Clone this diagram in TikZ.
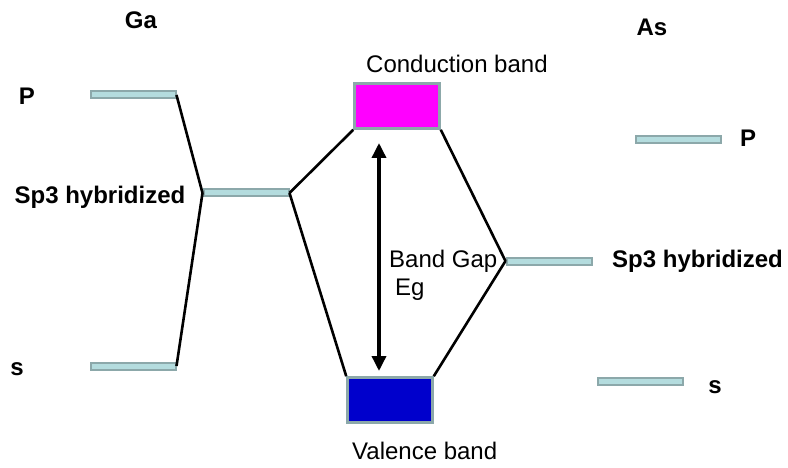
\documentclass[tikz,border=0pt]{standalone}
\usepackage{fontspec}
\setmainfont{Liberation Sans}
\usetikzlibrary{arrows.meta}

\definecolor{barfill}{RGB}{180,220,222}
\definecolor{barline}{RGB}{140,168,170}
\definecolor{cbfill}{RGB}{255,0,255}
\definecolor{vbfill}{RGB}{0,0,204}

\begin{document}
\begin{tikzpicture}[x=1pt, y=-1pt,
    level/.style={draw=barline, fill=barfill, line width=2pt, minimum width=85pt, minimum height=7pt, inner sep=0pt},
    band/.style={draw=barline, line width=2.5pt, minimum width=85pt, minimum height=45pt, inner sep=0pt},
    conn/.style={line width=2.6pt},
    lbl/.style={font=\fontsize{24}{28}\selectfont, inner sep=0pt},
    bold/.style={lbl, font=\fontsize{24}{28}\selectfont\bfseries}]
    \useasboundingbox (0,0) rectangle (788,468);

    % Ga levels
    \node[level] (gaP) at (133,95) {};
    \node[level] (gaSp) at (246,193) {};
    \node[level] (gaS) at (133,366) {};
    \node[bold] (gaName) at (141,20) {Ga};
    \node[bold] (gaPlbl) at (27,96) {P};
    \node[bold] (gaSplbl) at (100,197) {Sp3 hybridized};
    \node[bold] (gaSlbl) at (17,369) {s};

    % As levels
    \node[level] (asP) at (678,140) {};
    \node[level] (asSp) at (549,261) {};
    \node[level] (asS) at (640,381) {};
    \node[bold] (asName) at (652,27) {As};
    \node[bold] (asPlbl) at (748,138) {P};
    \node[bold, anchor=base west] (asSplbl) at (612,268) {Sp3 hybridized};
    \node[bold] (asSlbl) at (715,387) {s};

    % Bands
    \node[band, fill=cbfill] (cb) at (397,106) {};
    \node[band, fill=vbfill] (vb) at (390,400) {};
    \node[lbl, anchor=base west] (cblbl) at (366,73) {Conduction band};
    \node[lbl, anchor=base west] (vblbl) at (352,459) {Valence band};

    % Band gap
    \coordinate (gapTop) at (379,143);
    \coordinate (gapBot) at (379,371);
    \draw[line width=3.5pt, {Triangle[length=15pt,width=14pt]}-{Triangle[length=15pt,width=14pt]}] (gapTop) -- (gapBot);
    \node[lbl, anchor=base west] (gaplbl) at (389,267) {Band Gap};
    \node[lbl, anchor=base west] (eglbl) at (395,295) {Eg};

    % Connectors
    \draw[conn] (gaP.east) -- (gaSp.west);
    \draw[conn] (gaS.east) -- (gaSp.west);
    \draw[conn] (gaSp.east) -- (cb.south west);
    \draw[conn] (gaSp.east) -- (vb.north west);
    \draw[conn] (asSp.west) -- (cb.south east);
    \draw[conn] (asSp.west) -- (vb.north east);
\end{tikzpicture}
\end{document}
